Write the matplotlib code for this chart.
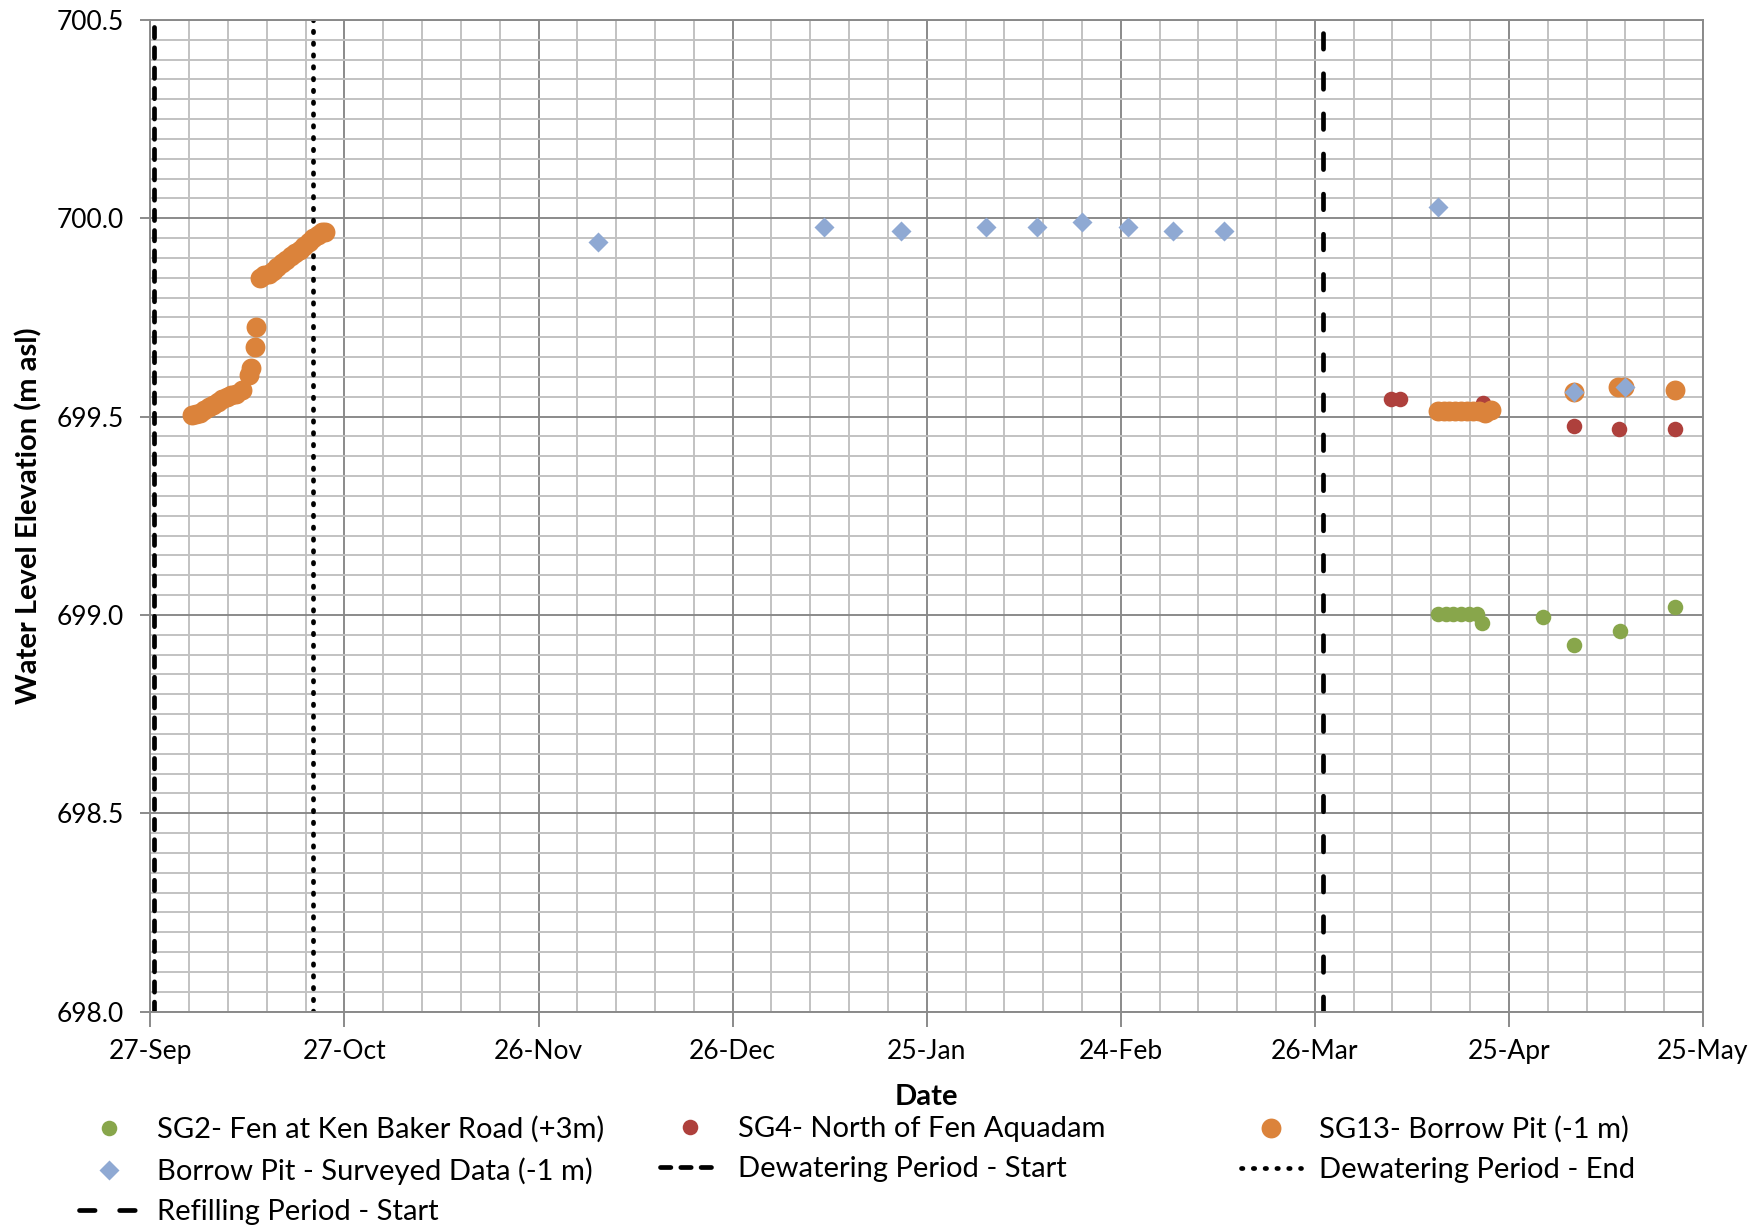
import numpy as np
import pandas as pd
import matplotlib
matplotlib.use('Agg')
import matplotlib.pyplot as plt
import matplotlib.dates as mdates
from matplotlib.ticker import MultipleLocator, FormatStrFormatter
from matplotlib.lines import Line2D

plt.rcParams['font.family'] = ['Lato', 'DejaVu Sans']

# all x values are days after 27-Sep-2014
start = pd.Timestamp('2014-09-27')

sg2_days = [199.0, 200.2, 201.4, 202.6, 203.8, 205.0, 205.9, 215.2, 220.1, 227.1, 235.7]
sg2_level = [699.002, 699.002, 699.002, 699.002, 699.002, 699.002, 698.979,
             698.994, 698.923, 698.959, 699.021]

sg4_days = [191.7, 193.1, 206.0, 220.0, 227.0, 235.7]
sg4_level = [699.544, 699.544, 699.534, 699.477, 699.469, 699.469]

sg13_days = [6.4, 7.0, 7.6, 8.3, 9.0, 9.7, 10.4, 11.1, 11.8, 12.5, 13.3, 14.1,
             15.2, 15.5, 16.1, 16.4,
             17.0, 17.6, 18.3, 19.0, 19.6, 20.3, 21.0, 21.7, 22.4, 23.1, 23.8,
             24.5, 25.2, 25.9, 26.5, 27.0,
             199.0, 199.9, 200.8, 201.7, 202.6, 203.5, 204.4, 205.3, 206.3, 207.2,
             220.0, 226.9, 227.8, 235.7]
sg13_level = [699.504, 699.506, 699.510, 699.516, 699.523, 699.530, 699.537, 699.544,
              699.550, 699.554, 699.558, 699.566,
              699.606, 699.622, 699.676, 699.727,
              699.850, 699.856, 699.860, 699.868, 699.878, 699.888, 699.896, 699.904,
              699.912, 699.921, 699.930, 699.940, 699.950, 699.958, 699.965, 699.966,
              699.515, 699.515, 699.515, 699.515, 699.515, 699.515, 699.515, 699.515,
              699.508, 699.517,
              699.563, 699.575, 699.575, 699.567]

survey_days = [69.2, 104.1, 116.1, 129.1, 137.1, 144.0, 151.1, 158.0, 166.0, 199.1, 220.0, 227.9]
survey_level = [699.939, 699.979, 699.969, 699.979, 699.979, 699.990, 699.979, 699.969,
                699.969, 700.029, 699.563, 699.574]

dewater_start_day = 0.5
dewater_end_day = 25.2
refill_start_day = 181.3
line_span = [698.0, 700.5]

labels = ['SG2- Fen at Ken Baker Road (+3m)', 'SG4- North of Fen Aquadam',
          'SG13- Borrow Pit (-1 m)', 'Borrow Pit - Surveyed Data (-1 m)',
          'Dewatering Period - Start', 'Dewatering Period - End',
          'Refilling Period - Start']


def to_dates(days):
    return start + pd.to_timedelta(np.asarray(days, dtype=float), unit='D')


green = '#88A64B'
red = '#AE403C'
orange = '#DB833B'
blue = '#8FA9D3'

fig = plt.figure(figsize=(17.61, 12.25), dpi=100)
ax = fig.add_axes([150.4 / 1761, 1 - 1011.5 / 1225, (1703 - 150.4) / 1761, (1011.5 - 20) / 1225])

ax.scatter(to_dates(sg2_days), sg2_level, s=125, color=green, linewidths=0, zorder=3)
ax.scatter(to_dates(sg4_days), sg4_level, s=125, color=red, linewidths=0, zorder=3)
ax.scatter(to_dates(sg13_days), sg13_level, s=205, color=orange, linewidths=0, zorder=3)
ax.scatter(to_dates(survey_days), survey_level, s=104, marker='D', color=blue,
           linewidths=0, zorder=3)

lw = 3.4
dash_dew = (0, (2.2, 2.1))
dash_refill = (0, (3.3, 5.2))
dot_end = (0, (0.3, 2.2))
ax.plot(to_dates([dewater_start_day] * 2), line_span, color='black', lw=lw,
        linestyle=dash_dew, dash_capstyle='round', zorder=2)
ax.plot(to_dates([dewater_end_day] * 2), line_span, color='black', lw=lw,
        linestyle=dot_end, dash_capstyle='round', zorder=2)
ax.plot(to_dates([refill_start_day] * 2), line_span, color='black', lw=lw,
        linestyle=dash_refill, dash_capstyle='round', zorder=2)

# axes
ax.set_xlim(start, start + pd.Timedelta(days=240))
ax.set_ylim(698.0, 700.5)
ax.set_xticks(pd.date_range(start, periods=9, freq='30D'))
ax.set_xticks(pd.date_range(start, periods=41, freq='6D'), minor=True)
ax.xaxis.set_major_formatter(mdates.DateFormatter('%d-%b'))
ax.yaxis.set_major_locator(MultipleLocator(0.5))
ax.yaxis.set_minor_locator(MultipleLocator(0.05))
ax.yaxis.set_major_formatter(FormatStrFormatter('%.1f'))

ax.grid(which='major', color='#8a8a8a', lw=1.4)
ax.grid(which='minor', color='#c2c2c2', lw=1.4)
ax.set_axisbelow(True)
for sp in ax.spines.values():
    sp.set_color('#8a8a8a')
    sp.set_linewidth(1.4)

ax.tick_params(axis='x', which='major', length=11, width=1.4, color='#8a8a8a',
               labelsize=19, pad=9)
ax.tick_params(axis='y', which='major', length=7, width=1.4, color='#8a8a8a',
               labelsize=19, pad=12)
ax.tick_params(which='minor', length=0)

ax.set_xlabel('Date', fontsize=21, fontweight='bold', labelpad=14)
ax.set_ylabel('Water Level Elevation (m asl)', fontsize=21, fontweight='bold', labelpad=10)

# legend, three columns placed separately
h_sg2 = Line2D([], [], ls='none', marker='o', ms=11.2, mfc=green, mec='none')
h_sg4 = Line2D([], [], ls='none', marker='o', ms=11.2, mfc=red, mec='none')
h_sg13 = Line2D([], [], ls='none', marker='o', ms=14.3, mfc=orange, mec='none')
h_surv = Line2D([], [], ls='none', marker='D', ms=10.2, mfc=blue, mec='none')
h_dws = Line2D([], [], color='black', lw=lw, ls=dash_dew, dash_capstyle='round')
h_dwe = Line2D([], [], color='black', lw=lw, ls=dot_end, dash_capstyle='round')
h_ref = Line2D([], [], color='black', lw=lw, ls=dash_refill, dash_capstyle='round')

columns = [([h_sg2, h_surv, h_ref], [labels[0], labels[3], labels[6]], 79),
           ([h_sg4, h_dws], [labels[1], labels[4]], 660),
           ([h_sg13, h_dwe], [labels[2], labels[5]], 1241)]
for handles, labs, xpx in columns:
    fig.legend(handles, labs, loc='upper left', bbox_to_anchor=(xpx / 1761, 1 - 1116 / 1225),
               frameon=False, fontsize=21, handlelength=2.05, handletextpad=0.62,
               borderpad=0, borderaxespad=0, labelspacing=0.49)

fig.savefig('out.png', dpi=100)
